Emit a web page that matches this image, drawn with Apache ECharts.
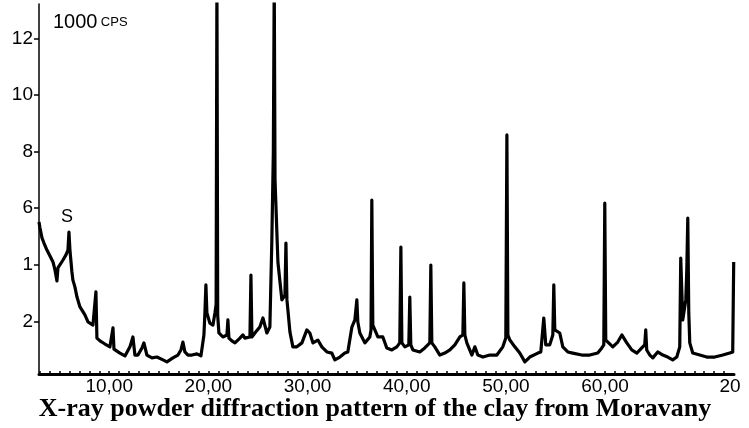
<!DOCTYPE html>
<html>
<head>
<meta charset="utf-8">
<script src="https://cdn.jsdelivr.net/npm/echarts@6/dist/echarts.min.js"></script>
<style>
  html, body { margin: 0; padding: 0; background: #fff; }
  #xrdChart { width: 749px; height: 428px; }
</style>
</head>
<body>
<div id="xrdChart"></div>
<script>
// 2 theta (deg)
const twoTheta = [
  2.92, 3.02, 3.22, 3.42, 3.72, 4.03, 4.33, 4.53, 4.73, 4.83, 5.03, 5.34, 5.64, 5.84, 5.94, 6.04,
  6.24, 6.34, 6.54, 6.75, 7.05, 7.55, 7.86, 8.36, 8.56, 8.66, 8.76, 9.07, 9.57, 10.07, 10.27, 10.38,
  10.48, 11.08, 11.59, 12.09, 12.39, 12.59, 12.90, 13.30, 13.50, 13.80, 14.31, 14.81, 15.42, 15.82,
  16.42, 16.93, 17.23, 17.43, 17.63, 17.94, 18.34, 18.84, 19.25, 19.55, 19.65, 19.75, 19.85, 20.15,
  20.46, 20.66, 20.78, 20.86, 20.94, 21.06, 21.46, 21.87, 21.97, 22.07, 22.37, 22.68, 23.18, 23.48,
  23.68, 24.19, 24.29, 24.39, 24.79, 25.19, 25.50, 25.90, 26.20, 26.40, 26.55, 26.64, 26.72, 27.01,
  27.21, 27.41, 27.72, 27.82, 27.92, 28.02, 28.22, 28.52, 28.92, 29.43, 29.93, 30.23, 30.54, 31.04,
  31.44, 31.95, 32.45, 32.75, 33.26, 33.76, 34.06, 34.47, 34.77, 34.97, 35.07, 35.27, 35.78, 36.28,
  36.40, 36.48, 36.58, 36.78, 37.09, 37.59, 37.99, 38.50, 39.00, 39.30, 39.41, 39.51, 39.81, 40.21,
  40.31, 40.41, 40.62, 41.32, 41.82, 42.33, 42.43, 42.53, 42.83, 43.34, 43.84, 44.35, 44.85, 45.36,
  45.66, 45.76, 45.86, 46.06, 46.57, 46.87, 47.17, 47.68, 48.38, 49.09, 49.69, 49.99, 50.10, 50.20,
  50.40, 50.90, 51.40, 51.91, 52.41, 53.22, 53.52, 53.82, 54.02, 54.42, 54.73, 54.83, 54.93, 55.13,
  55.43, 55.74, 56.24, 56.74, 57.65, 58.46, 59.26, 59.67, 59.87, 59.97, 60.07, 60.27, 60.78, 61.28,
  61.69, 62.19, 62.69, 63.20, 63.70, 64.00, 64.10, 64.20, 64.51, 64.81, 65.31, 65.82, 66.32, 66.82,
  67.23, 67.53, 67.63, 67.83, 68.14, 68.24, 68.34, 68.44, 68.54, 68.84, 69.55, 70.25, 71.06, 71.87,
  72.57, 72.87, 72.97
];
// intensity, 1000 cps
const counts = [
  5.51, 5.30, 4.95, 4.77, 4.52, 4.31, 4.10, 3.82, 3.43, 3.89, 3.96, 4.17, 4.35, 4.52, 5.16, 4.52,
  3.75, 3.46, 3.22, 2.86, 2.51, 2.23, 1.98, 1.87, 1.80, 3.04, 1.41, 1.31, 1.20, 1.10, 1.06, 1.77,
  1.02, 0.88, 0.78, 1.10, 1.45, 0.81, 0.81, 1.06, 1.24, 0.81, 0.71, 0.74, 0.64, 0.57,
  0.71, 0.81, 0.99, 1.27, 0.92, 0.81, 0.81, 0.85, 0.78, 1.52, 2.30, 3.29, 2.30, 1.94,
  1.87, 2.30, 2.60, 14.0, 2.20, 1.59, 1.45, 1.52, 2.05, 1.41, 1.31, 1.24, 1.41, 1.52,
  1.41, 1.45, 3.64, 1.45, 1.63, 1.80, 2.12, 1.59, 1.80, 4.88, 8.00, 14.0, 7.00, 4.10,
  4.10, 2.76, 2.93, 4.77, 2.76, 2.40, 1.63, 1.10, 1.10, 1.24, 1.70, 1.59, 1.24, 1.34,
  1.10, 0.92, 0.88, 0.64, 0.74, 0.88, 0.92, 1.80, 2.05, 2.76, 1.98, 1.59, 1.24, 1.45,
  1.70, 6.29, 1.87, 1.80, 1.45, 1.45, 1.06, 0.99, 1.10, 1.24, 4.63, 1.24, 1.10, 1.17,
  2.86, 1.17, 0.99, 0.92, 1.06, 1.24, 3.99, 1.24, 1.10, 0.81, 0.88, 0.99, 1.17, 1.45,
  1.52, 3.36, 1.52, 1.24, 0.81, 1.10, 0.81, 0.74, 0.81, 0.81, 1.10, 1.41, 8.59, 1.52,
  1.34, 1.10, 0.88, 0.57, 0.74, 0.88, 0.92, 2.12, 1.17, 1.17, 1.52, 3.29, 1.70, 1.70,
  1.59, 1.10, 0.92, 0.88, 0.81, 0.81, 0.88, 1.06, 1.17, 6.18, 1.34, 1.34, 1.10, 1.27,
  1.52, 1.24, 0.99, 0.88, 1.06, 1.17, 1.70, 0.99, 0.81, 0.71, 0.92, 0.81, 0.74, 0.64,
  0.74, 1.10, 4.24, 2.05, 2.76, 3.82, 5.65, 2.30, 1.24, 0.88, 0.81, 0.74, 0.74, 0.81,
  0.88, 0.92, 4.10
];

const xLabelValues = [10, 20, 30, 40, 50, 60, 72.6];
const xLabelTexts = ["10,00", "20,00", "30,00", "40,00", "50,00", "60,00", "20"];
const yLabelValues = [2, 4, 6, 8, 10, 12];
const yLabelTexts = ["2", "1", "6", "8", "10", "12"];
const xMinorTicks = [];
for (let d = 3; d <= 72; d++) xMinorTicks.push(d);

const chart = echarts.init(document.getElementById("xrdChart"));

const option = {
  animation: false,
  backgroundColor: "#fff",
  grid: { left: 39, right: 15, top: 4, bottom: 54 },
  title: {
    text: "X-ray powder diffraction pattern of the clay from Moravany",
    left: 370,
    textAlign: "center",
    top: 391,
    textStyle: {
      fontFamily: "Liberation Serif",
      fontWeight: "bold",
      fontSize: 26,
      color: "#000",
    },
  },
  xAxis: {
    type: "value",
    min: 2.92,
    max: 73.0,
    axisLine: { show: true, lineStyle: { color: "#000", width: 3 } },
    axisTick: {
      show: true,
      customValues: xMinorTicks,
      inside: true,
      length: 3,
      lineStyle: { color: "#000", width: 1.5 },
    },
    axisLabel: {
      customValues: xLabelValues,
      formatter: (v) => xLabelTexts[xLabelValues.indexOf(v)],
      color: "#000",
      fontFamily: "Liberation Sans",
      fontSize: 19,
      margin: 3,
    },
    splitLine: { show: false },
  },
  yAxis: {
    type: "value",
    min: 0.14,
    max: 13.22,
    axisLine: { show: true, lineStyle: { color: "#000", width: 1.5 } },
    axisTick: {
      show: true,
      customValues: yLabelValues,
      length: 5,
      lineStyle: { color: "#000", width: 1.5 },
    },
    axisLabel: {
      customValues: yLabelValues,
      formatter: (v) => yLabelTexts[yLabelValues.indexOf(v)],
      color: "#000",
      fontFamily: "Liberation Sans",
      fontSize: 19,
      margin: 6,
    },
    splitLine: { show: false },
  },
  graphic: [
    {
      type: "text",
      left: 53,
      top: 12,
      style: {
        text: "{a|1000} {b|CPS}",
        rich: {
          a: { fontFamily: "Liberation Sans", fontSize: 20, fill: "#000" },
          b: { fontFamily: "Liberation Sans", fontSize: 13, fill: "#000" },
        },
      },
    },
    {
      type: "text",
      left: 61,
      top: 208,
      style: { text: "S", fontFamily: "Liberation Sans", fontSize: 18, fill: "#000" },
    },
  ],
  series: [
    {
      type: "line",
      data: twoTheta.map((t, i) => [t, counts[i]]),
      showSymbol: false,
      clip: true,
      lineStyle: { color: "#000", width: 3.2, join: "round" },
    },
  ],
};

chart.setOption(option);
</script>
</body>
</html>
